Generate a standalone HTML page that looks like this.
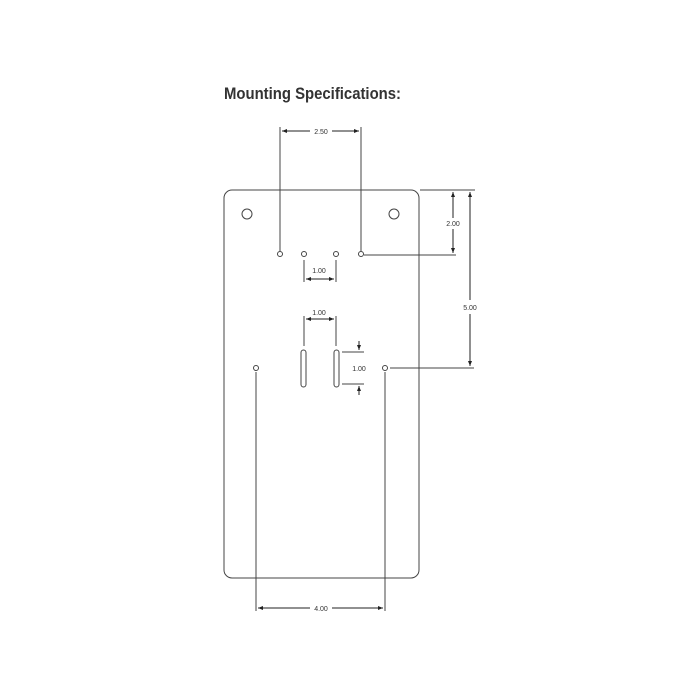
<!DOCTYPE html>
<html><head><style>body{margin:0;background:#fff}svg{display:block}</style></head>
<body>
<svg width="700" height="700" viewBox="0 0 700 700" xmlns="http://www.w3.org/2000/svg">
<defs>
<marker id="a" viewBox="0 0 10 10" refX="10" refY="5" markerWidth="5" markerHeight="5" orient="auto-start-reverse"><path d="M0,1 L10,5 L0,9 z" fill="#222"/></marker>
</defs>
<text x="224" y="99" font-family="Liberation Sans, sans-serif" font-weight="bold" font-size="16.5" fill="#333" textLength="177" lengthAdjust="spacingAndGlyphs">Mounting Specifications:</text>
<g stroke="#444" stroke-width="1" fill="none">
<rect x="224" y="190" width="195" height="388" rx="8"/>
<circle cx="247" cy="214" r="5"/><circle cx="394" cy="214" r="5"/>
<circle cx="280" cy="254" r="2.5"/><circle cx="304" cy="254" r="2.5"/><circle cx="336" cy="254" r="2.5"/><circle cx="361" cy="254" r="2.5"/>
<circle cx="256" cy="368" r="2.5"/><circle cx="385" cy="368" r="2.5"/>
<rect x="301" y="350" width="5" height="37" rx="2.5"/><rect x="334" y="350" width="5" height="37" rx="2.5"/>
<!-- extension lines -->
<path d="M280,127V251M361,127V251M304,260V282M336,260V282M304,316V346M336,316V346M420,190H475M364,255H456M390,368H474M342,352H364M342,384H364M256,372V611M385,372V611"/>
</g>
<g stroke="#222" stroke-width="1" fill="none" marker-end="url(#a)" marker-start="url(#a)">
<path d="M282,131H310" marker-end="none"/><path d="M332,131H359" marker-start="none"/>
<path d="M306,279H334"/><path d="M306,319H334"/>
<path d="M453,192V218" marker-end="none"/><path d="M453,229V253" marker-start="none"/>
<path d="M470,192V300" marker-end="none"/><path d="M470,314V366" marker-start="none"/>
<path d="M258,608H310" marker-end="none"/><path d="M332,608H383" marker-start="none"/>
<path d="M359,341V350" marker-start="none"/><path d="M359,395V386" marker-start="none"/>
</g>
<g font-family="Liberation Sans, sans-serif" font-size="7" fill="#333" text-anchor="middle">
<text x="321" y="134">2.50</text>
<text x="319" y="273">1.00</text>
<text x="319" y="315">1.00</text>
<text x="453" y="226">2.00</text>
<text x="470" y="310">5.00</text>
<text x="359" y="371">1.00</text>
<text x="321" y="611">4.00</text>
</g>
</svg>
</body></html>
